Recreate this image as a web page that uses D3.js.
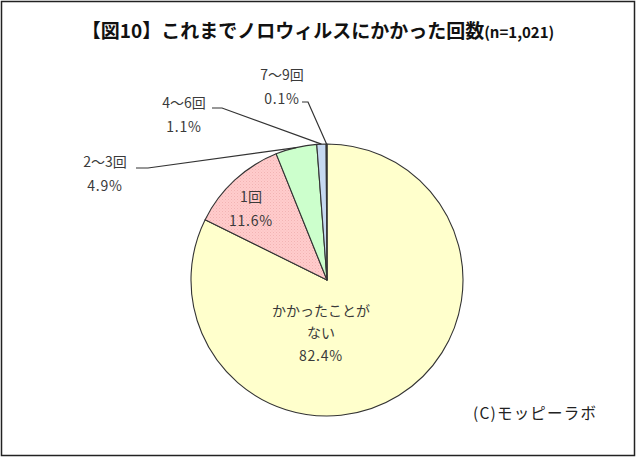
<!DOCTYPE html>
<html><head><meta charset="utf-8">
<script src="https://cdn.jsdelivr.net/npm/d3@7"></script>
<style>body{margin:0;background:#fff}svg{display:block}</style>
</head><body>
<svg id="c" width="640" height="459"></svg>
<script>
const categories = ["かかったことがない", "1回", "2～3回", "4～6回", "7～9回"];
const labelLines = [["かかったことが","ない"], ["1回"], ["2～3回"], ["4～6回"], ["7～9回"]];
const values = [82.4, 11.6, 4.9, 1.1, 0.1];
const percentLabels = ["82.4%", "11.6%", "4.9%", "1.1%", "0.1%"];
const colors = ["#FFFFCC", "url(#pinkDots)", "#CCFFCC", "#C6D9F1", "#E6B9B8"];

const svg = d3.select("#c");
const font = "'Noto Sans CJK JP', 'Noto Sans', sans-serif";
const defs = svg.append("defs");
const pat = defs.append("pattern").attr("id","pinkDots").attr("patternUnits","userSpaceOnUse")
  .attr("width",3).attr("height",3);
pat.append("rect").attr("width",3).attr("height",3).attr("fill","#FFCCCC");
pat.append("rect").attr("x",0).attr("y",0).attr("width",1).attr("height",1).attr("fill","#F2B3B3");
pat.append("rect").attr("x",1.5).attr("y",1.5).attr("width",1).attr("height",1).attr("fill","#F7BEBE");

// frame
svg.append("rect").attr("x",1.5).attr("y",1.5).attr("width",633).attr("height",454)
  .attr("fill","#fff").attr("stroke","#222").attr("stroke-width",1.5);

// title
const t = svg.append("text").attr("x",318).attr("y",38).attr("text-anchor","middle")
  .attr("font-family",font).attr("font-weight","bold").attr("fill","#111");
t.append("tspan").attr("font-size",19).text("【図10】これまでノロウィルスにかかった回数");
t.append("tspan").attr("font-size",15).text("(n=1,021)");

const cx = 327, cy = 280, r = 136;
const pie = d3.pie().sort(null).value(d => d)(values);
const arc = d3.arc().innerRadius(0).outerRadius(r);
const g = svg.append("g").attr("transform",`translate(${cx},${cy})`);
g.selectAll("path").data(pie).join("path")
  .attr("d", arc).attr("fill", (d,i) => colors[i])
  .attr("stroke","#333").attr("stroke-width",1.1).attr("stroke-linejoin","round");

const txtColor = "#3a3a3a";
const fs = 14;
// inside labels
function inside(x, ys, lines, pct) {
  const tx = svg.append("text").attr("font-family",font).attr("font-size",fs)
    .attr("fill",txtColor).attr("text-anchor","middle");
  lines.forEach((l,k) => tx.append("tspan").attr("x",x).attr("y",ys[k]).text(l));
  tx.append("tspan").attr("x",x).attr("y",ys[lines.length]).attr("letter-spacing",0.8).text(pct);
}
inside(321, [316, 338, 361], labelLines[0], percentLabels[0]);
inside(251, [202, 226], labelLines[1], percentLabels[1]);
// outside labels
const outside = [
  {i:2, x:105, y:167, lx:136, ly:168, hx:148},
  {i:3, x:184, y:108, lx:212, ly:108, hx:222},
  {i:4, x:282, y:80,  lx:302, ly:102, hx:308}
];
outside.forEach(o => {
  const tx = svg.append("text").attr("font-family",font).attr("font-size",fs)
    .attr("fill",txtColor).attr("text-anchor","middle");
  tx.append("tspan").attr("x",o.x).attr("y",o.y).text(labelLines[o.i][0]);
  tx.append("tspan").attr("x",o.x).attr("y",o.y+24).attr("letter-spacing",0.8).text(percentLabels[o.i]);
  const d = pie[o.i];
  const a = (d.startAngle + d.endAngle)/2;
  const px = cx + r*Math.sin(a), py = cy - r*Math.cos(a);
  svg.append("polyline").attr("points",`${o.lx},${o.ly} ${o.hx},${o.ly} ${px},${py}`)
    .attr("fill","none").attr("stroke","#333").attr("stroke-width",1.2);
});

svg.append("text").attr("x",473).attr("y",419).attr("font-family",font).attr("font-size",15.5)
  .attr("letter-spacing",1.2).attr("fill","#222").text("(C)モッピーラボ");
</script>
</body></html>
